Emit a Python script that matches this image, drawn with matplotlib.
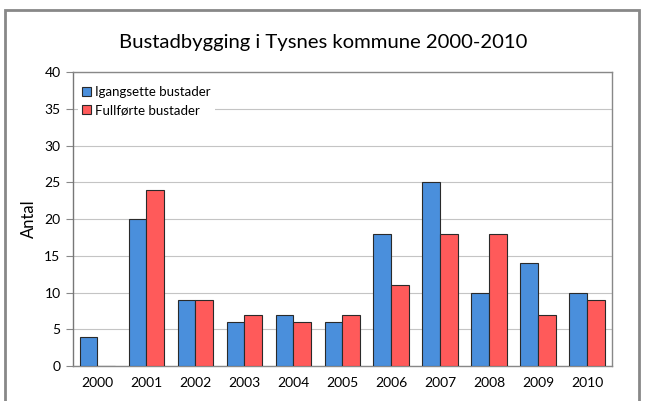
import numpy as np
import matplotlib
matplotlib.use("Agg")
import matplotlib.pyplot as plt
from matplotlib.patches import Rectangle

plt.rcParams["font.family"] = ["Lato", "DejaVu Sans"]

years = ["2000", "2001", "2002", "2003", "2004", "2005",
         "2006", "2007", "2008", "2009", "2010"]
igangsette = [4, 20, 9, 6, 7, 6, 18, 25, 10, 14, 10]
fullforte = [0, 24, 9, 7, 6, 7, 11, 18, 18, 7, 9]

blue = "#4a8fdc"
red = "#ff5a5a"

fig = plt.figure(figsize=(6.46, 4.01), dpi=100)
ax = fig.add_axes([0.113, 0.087, 0.834, 0.733])

x = np.arange(len(years))
w = 0.365
ax.bar(x - w / 2, igangsette, w, color=blue, edgecolor="#2a2a2a",
       linewidth=0.8, label="Igangsette bustader", zorder=3)
ax.bar(x + w / 2, fullforte, w, color=red, edgecolor="#2a2a2a",
       linewidth=0.8, label="Fullførte bustader", zorder=3)

ax.set_xlim(-0.5, len(years) - 0.5)
ax.set_ylim(0, 40)
ax.set_yticks(range(0, 41, 5))
ax.set_xticks(x)
ax.set_xticklabels(years)
ax.tick_params(axis="x", length=0, pad=8, labelsize=10)
ax.tick_params(axis="y", length=5, width=0.8, color="#888888",
               labelsize=10, pad=4)
ax.yaxis.grid(True, color="#c4c4c4", linewidth=0.8, zorder=0)
for s in ax.spines.values():
    s.set_color("#888888")
    s.set_linewidth(1.0)
ax.spines["left"].set_color("#777777")

ax.set_ylabel("Antal", fontsize=12, labelpad=5)
fig.text(0.5, 0.895, "Bustadbygging i Tysnes kommune 2000-2010",
         ha="center", va="center", fontsize=14.6)

leg = ax.legend(loc="upper left", bbox_to_anchor=(0.0, 0.985),
                frameon=True, fancybox=False, edgecolor="none",
                framealpha=1.0, fontsize=9.5, handlelength=0.7,
                handleheight=0.7, handletextpad=0.3, borderpad=0.3,
                labelspacing=0.5, borderaxespad=0.4)
leg.set_zorder(5)

# outer chart frame
fig.patches.append(Rectangle((5 / 646, -0.05), 634 / 646, 1 - 10 / 401 + 0.05,
                             transform=fig.transFigure, fill=False,
                             edgecolor="#888888", linewidth=2))

fig.savefig("out.png", dpi=100)
